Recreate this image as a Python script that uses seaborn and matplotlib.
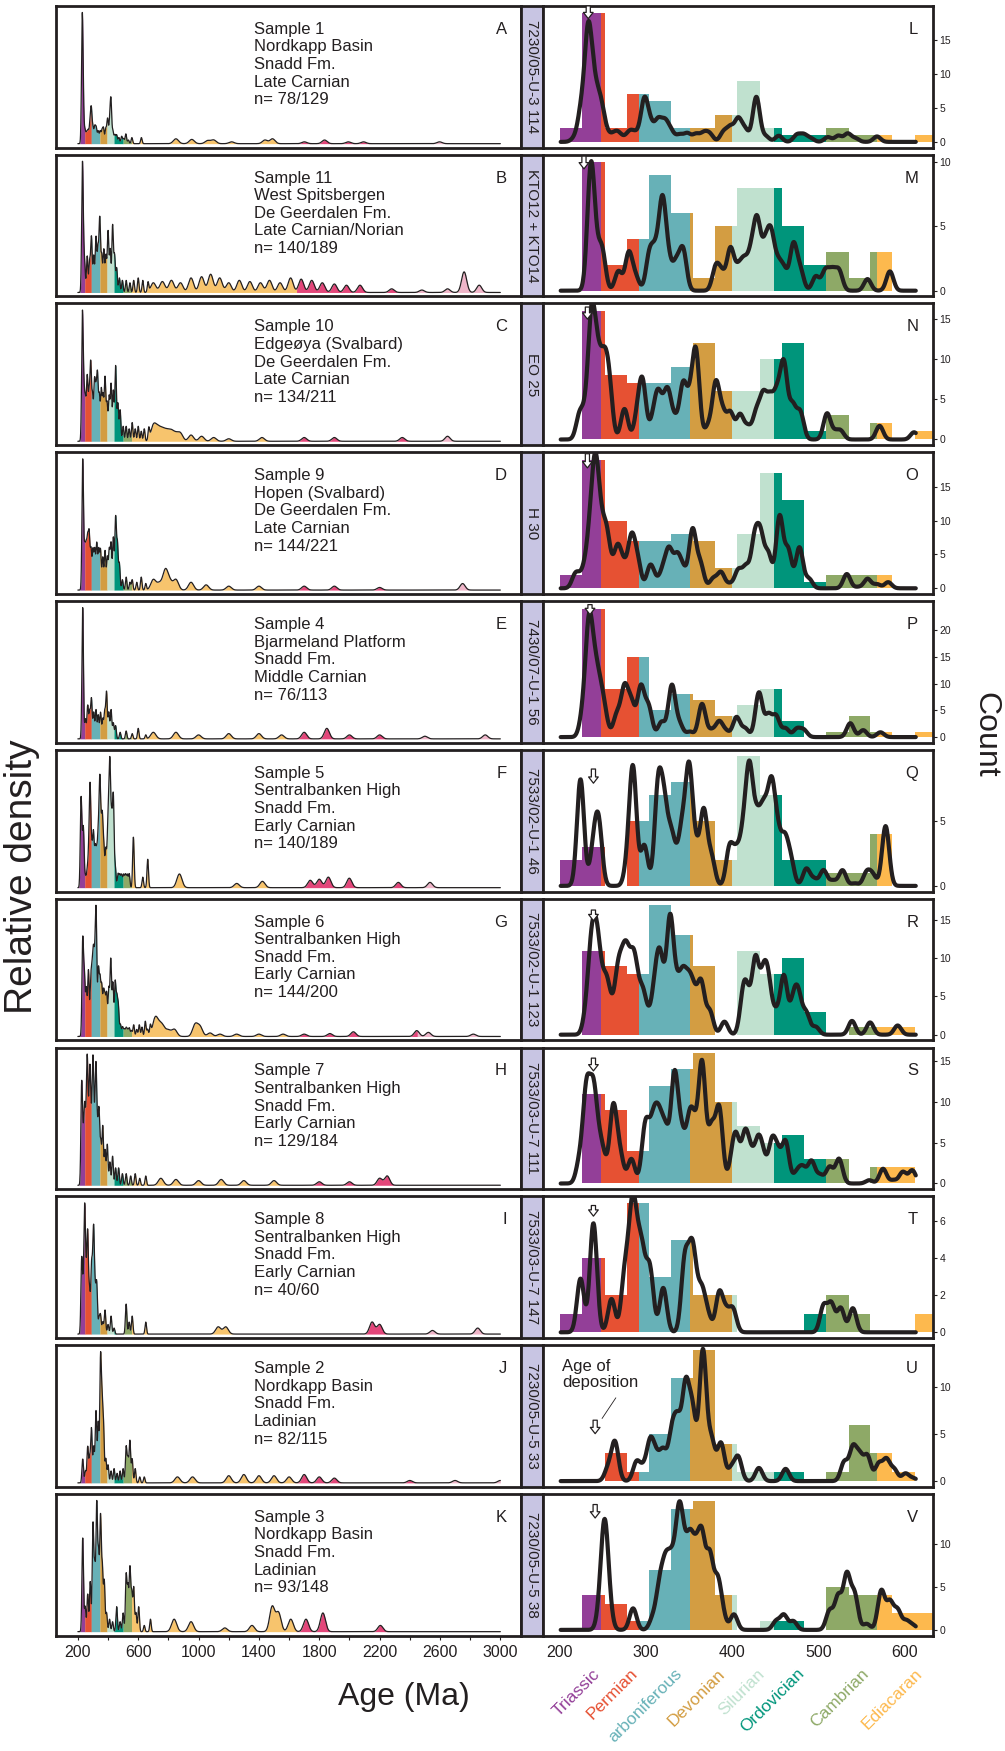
import numpy as np
import pandas as pd
import matplotlib
matplotlib.use("Agg")
import matplotlib.pyplot as plt
import seaborn as sns

# ---------------- data ----------------
sample_labels = [
    "Sample 1\nNordkapp Basin\nSnadd Fm.\nLate Carnian\nn= 78/129",
    "Sample 11\nWest Spitsbergen\nDe Geerdalen Fm.\nLate Carnian/Norian\nn= 140/189",
    "Sample 10\nEdgeøya (Svalbard)\nDe Geerdalen Fm.\nLate Carnian\nn= 134/211",
    "Sample 9\nHopen (Svalbard)\nDe Geerdalen Fm.\nLate Carnian\nn= 144/221",
    "Sample 4\nBjarmeland Platform\nSnadd Fm.\nMiddle Carnian\nn= 76/113",
    "Sample 5\nSentralbanken High\nSnadd Fm.\nEarly Carnian\nn= 140/189",
    "Sample 6\nSentralbanken High\nSnadd Fm.\nEarly Carnian\nn= 144/200",
    "Sample 7\nSentralbanken High\nSnadd Fm.\nEarly Carnian\nn= 129/184",
    "Sample 8\nSentralbanken High\nSnadd Fm.\nEarly Carnian\nn= 40/60",
    "Sample 2\nNordkapp Basin\nSnadd Fm.\nLadinian\nn= 82/115",
    "Sample 3\nNordkapp Basin\nSnadd Fm.\nLadinian\nn= 93/148",
]
well_labels = ["7230/05-U-3 114", "KTO12 + KTO14", "EO 25", "H 30", "7430/07-U-1 56",
               "7533/02-U-1 46", "7533/02-U-1 123", "7533/03-U-7 111", "7533/03-U-7 147",
               "7230/05-U-5 33", "7230/05-U-5 38"]
left_letters = list("ABCDEFGHIJK")
right_letters = list("LMNOPQRSTUV")

# period colour bands, right panels (Ma as read on the count-panel axis)
period_names = ["Triassic", "Permian", "arboniferous", "Devonian", "Silurian",
                "Ordovician", "Cambrian", "Ediacaran"]
period_edges = [200, 248, 292, 351, 400, 448, 509, 568, 638]
period_colors = ["#933f98", "#e65133", "#67b1b7", "#d39d42", "#c0e1cf",
                 "#00957b", "#8ea967", "#fdb94e"]
# colour bands of the relative-density panels (Ma on the density axis)
density_edges = [200, 246, 289, 346, 393, 440, 500, 556, 1650, 2450, 3000]
density_colors = period_colors[:-1] + ["#f7c46d", "#e3467a", "#f0b5c9"]

# histogram bins (Ma) and counts, panels L..V
bin_edges = [200, 226, 252, 278, 303, 329, 355, 380, 406, 432, 458, 483, 509, 535, 560, 586, 612, 638]
counts_L = [2, 19, 2, 7, 6, 2, 2, 4, 9, 2, 1, 1, 2, 1, 1, 0, 1]
counts_M = [0, 10, 2, 4, 9, 6, 1, 5, 8, 8, 5, 2, 3, 1, 3, 0, 0]
counts_N = [0, 16, 8, 7, 7, 9, 12, 6, 6, 10, 12, 1, 3, 0, 2, 0, 1]
counts_O = [2, 19, 10, 7, 7, 8, 7, 3, 8, 17, 13, 1, 2, 2, 2, 0, 0]
counts_P = [0, 24, 9, 15, 5, 8, 7, 4, 6, 9, 3, 0, 1, 4, 1, 0, 1]
counts_Q = [2, 3, 0, 5, 7, 8, 5, 2, 10, 7, 2, 2, 1, 1, 4, 0, 0]
counts_R = [0, 11, 9, 8, 17, 13, 9, 0, 11, 8, 10, 3, 0, 1, 1, 1, 0]
counts_S = [0, 11, 9, 4, 12, 14, 16, 10, 7, 5, 6, 3, 3, 0, 2, 2, 0]
counts_T = [1, 4, 2, 7, 3, 5, 2, 2, 0, 0, 0, 1, 2, 1, 0, 0, 1]
counts_U = [0, 0, 3, 1, 5, 11, 14, 4, 1, 1, 1, 0, 1, 6, 3, 1, 0]
counts_V = [0, 4, 3, 1, 7, 14, 15, 4, 0, 1, 1, 0, 5, 4, 4, 2, 2]

# age peaks (Ma, count height) for the probability curves, panels L..V
pdp_L = [(217, 0.5), (225, 4.5), (233, 15.5), (240, 6.5), (247, 5.0), (253, 1.3), (261, 0.8), (267, 1.2),
         (273, 0.4), (281, 1.4), (288, 1.1), (298, 6.0), (305, 2.3), (314, 3.0), (322, 2.7), (329, 1.4),
         (339, 1.0), (348, 1.2), (358, 1.1), (367, 1.2), (374, 1.1), (390, 1.4), (398, 2.0), (407, 3.2),
         (415, 1.7), (428, 6.6), (439, 0.8), (454, 0.9), (475, 1.0), (483, 1.0), (491, 0.5), (511, 0.7),
         (523, 0.9), (534, 1.2), (543, 0.5), (568, 0.8)]
pdp_M = [(236, 9.3), (242, 2.0), (249, 3.0), (268, 1.5), (280, 2.9), (288, 1.0), (304, 2.7), (311, 2.5),
         (319, 6.6), (326, 2.0), (335, 2.0), (343, 3.1), (381, 1.8), (388, 1.2), (398, 3.2), (407, 1.5),
         (414, 2.0), (422, 2.5), (429, 5.0), (438, 3.0), (445, 4.0), (453, 1.8), (460, 1.5), (471, 3.5),
         (479, 1.5), (497, 1.1), (508, 1.5), (516, 1.4), (524, 1.5), (557, 0.9), (583, 1.5)]
pdp_N = [(223, 3.0), (230, 2.5), (237, 14.5), (244, 8.0), (251, 7.5), (257, 6.5), (275, 3.8), (290, 2.6),
         (296, 6.8), (308, 2.0), (314, 5.0), (321, 2.5), (326, 4.8), (334, 2.0), (343, 6.5), (351, 4.0),
         (358, 10.5), (372, 1.5), (381, 6.8), (389, 3.0), (398, 3.2), (409, 3.0), (418, 1.5), (428, 3.2),
         (436, 5.0), (444, 4.5), (452, 5.0), (460, 9.0), (470, 4.0), (479, 3.3), (510, 3.2), (519, 0.8),
         (526, 1.0), (571, 1.7), (611, 0.9)]
pdp_O = [(218, 1.9), (223, 0.8), (229, 2.2), (235, 6.0), (241, 15.5), (247, 7.0), (254, 7.3), (260, 1.5),
         (267, 5.5), (274, 2.8), (283, 7.0), (290, 3.8), (305, 3.3), (312, 0.8), (320, 2.5), (327, 5.2),
         (336, 4.3), (343, 2.5), (354, 8.5), (363, 3.5), (378, 1.4), (387, 2.3), (397, 0.6), (407, 2.6),
         (416, 3.0), (426, 6.8), (433, 7.0), (442, 4.8), (455, 10.5), (465, 5.5), (478, 6.0), (489, 1.4),
         (533, 2.1), (546, 0.2), (557, 1.4), (568, 0.6), (581, 0.9)]
pdp_P = [(227, 4.0), (234, 20.0), (241, 10.0), (247, 6.0), (252, 3.5), (266, 4.0), (275, 8.8), (283, 6.0),
         (294, 9.2), (303, 5.5), (318, 2.8), (330, 9.6), (339, 2.3), (351, 1.0), (365, 6.2), (376, 1.2),
         (385, 2.8), (393, 1.0), (405, 3.7), (415, 1.6), (431, 8.3), (442, 4.0), (451, 3.8), (462, 1.6),
         (475, 1.5), (483, 1.3), (537, 2.6), (552, 1.3), (572, 0.9)]
pdp_Q = [(224, 8.2), (239, 2.6), (245, 4.6), (279, 1.6), (285, 8.7), (298, 3.1), (314, 7.3), (321, 5.5),
         (329, 3.4), (335, 1.2), (342, 4.0), (350, 8.6), (358, 2.4), (367, 5.6), (376, 2.1), (397, 2.9),
         (405, 2.3), (413, 3.5), (420, 8.2), (428, 4.2), (435, 4.0), (440, 3.0), (446, 6.5), (453, 3.3),
         (461, 3.2), (468, 1.8), (486, 1.3), (495, 0.5), (506, 1.2), (517, 0.4), (528, 1.2), (542, 0.2),
         (556, 1.0), (563, 0.8), (578, 4.6)]
pdp_R = [(231, 2.5), (237, 10.0), (243, 9.5), (248, 3.5), (254, 5.5), (259, 2.0), (267, 6.5), (272, 4.5),
         (277, 8.0), (283, 4.5), (287, 6.0), (290, 1.5), (296, 4.8), (302, 1.5), (310, 5.0), (316, 8.5),
         (321, 2.0), (328, 14.5), (336, 5.0), (343, 6.5), (350, 5.5), (356, 4.0), (364, 6.5), (374, 3.0),
         (391, 1.7), (413, 5.0), (418, 3.5), (427, 9.5), (436, 6.5), (442, 6.0), (451, 2.5), (460, 7.5),
         (471, 4.0), (477, 4.5), (486, 2.7), (497, 1.0), (539, 1.8), (560, 1.6), (592, 1.2)]
pdp_S = [(223, 2.6), (231, 11.0), (239, 10.5), (246, 3.5), (251, 2.2), (262, 9.3), (270, 3.3), (283, 3.0),
         (299, 6.5), (305, 3.0), (310, 6.0), (316, 6.0), (323, 5.5), (333, 12.8), (341, 5.5), (350, 6.5),
         (356, 5.5), (365, 14.5), (376, 6.5), (385, 9.0), (400, 2.5), (405, 4.8), (415, 5.8), (422, 2.8),
         (430, 4.6), (436, 2.7), (446, 4.8), (453, 3.3), (462, 5.0), (475, 1.3), (482, 1.8), (492, 2.7),
         (502, 1.0), (513, 2.0), (524, 3.0), (559, 0.4), (575, 1.8), (587, 0.4), (598, 1.4), (609, 1.6)]
pdp_T = [(224, 2.9), (239, 5.9), (260, 1.8), (275, 2.6), (279, 1.0), (284, 5.3), (289, 2.8), (295, 3.6),
         (301, 1.0), (305, 2.8), (320, 2.4), (345, 3.8), (353, 3.8), (358, 1.5), (365, 2.0), (372, 0.8),
         (385, 2.1), (393, 1.0), (401, 1.2), (506, 1.4), (515, 1.5), (526, 1.3), (540, 1.3)]
pdp_U = [(256, 1.3), (264, 4.1), (289, 2.0), (297, 1.2), (305, 4.0), (312, 2.2), (320, 3.0), (330, 4.8),
         (337, 5.5), (346, 9.5), (354, 7.0), (366, 13.8), (376, 4.2), (387, 4.0), (399, 1.3), (407, 2.5),
         (431, 1.4), (462, 1.3), (530, 2.0), (540, 3.4), (548, 2.5), (557, 2.6), (570, 1.8), (579, 2.2),
         (588, 1.2), (601, 0.8), (610, 0.3)]
pdp_V = [(247, 2.0), (252, 11.0), (257, 2.0), (285, 2.5), (308, 1.3), (316, 4.8), (323, 6.5), (330, 6.5),
         (338, 11.5), (344, 6.5), (351, 8.5), (358, 7.0), (365, 9.5), (374, 8.0), (383, 5.2), (389, 1.5),
         (402, 1.8), (451, 1.0), (460, 1.7), (471, 1.0), (513, 2.2), (523, 3.8), (533, 6.2), (542, 4.0),
         (556, 0.7), (573, 4.5), (583, 3.1), (592, 2.2), (602, 1.0), (610, 0.5)]

# relative-density peaks (Ma, relative height), panels A..K
kde_A = [(229, 1.0), (236, 0.2), (247, 0.1), (258, 0.08), (268, 0.1), (280, 0.15), (289, 0.27), (300, 0.12),
         (312, 0.13), (322, 0.12), (335, 0.1), (348, 0.1), (360, 0.1), (370, 0.12), (385, 0.12), (397, 0.2),
         (410, 0.15), (419, 0.35), (432, 0.1), (445, 0.07), (457, 0.07), (472, 0.05), (490, 0.06), (503, 0.04),
         (518, 0.08), (535, 0.03), (558, 0.05), (621, 0.05),
         (850, 0.04), (955, 0.035), (1060, 0.025), (1100, 0.03), (1219, 0.015), (1440, 0.03), (1490, 0.04),
         (1701, 0.015), (1835, 0.03), (1992, 0.015), (2093, 0.015), (2597, 0.015)]
kde_B = [(230, 1.0), (237, 0.2), (245, 0.2), (262, 0.3), (278, 0.25), (290, 0.45), (305, 0.3), (320, 0.45),
         (333, 0.35), (345, 0.6), (358, 0.3), (372, 0.35), (386, 0.3), (400, 0.5), (414, 0.35), (430, 0.55),
         (443, 0.3), (457, 0.2), (475, 0.12), (495, 0.1), (520, 0.1), (545, 0.08), (570, 0.1), (600, 0.12),
         (630, 0.1), (665, 0.08),
         (700, 0.08), (760, 0.09), (820, 0.1), (880, 0.08), (950, 0.12), (1020, 0.13), (1080, 0.15),
         (1140, 0.12), (1200, 0.08), (1270, 0.1), (1340, 0.09), (1410, 0.08), (1470, 0.1), (1540, 0.08),
         (1610, 0.12), (1680, 0.11), (1750, 0.1), (1820, 0.08), (1900, 0.07), (1980, 0.06), (2070, 0.06),
         (2280, 0.03), (2480, 0.02), (2650, 0.03), (2760, 0.17), (2860, 0.06)]
kde_C = [(230, 1.0), (240, 0.35), (250, 0.3), (262, 0.5), (274, 0.35), (285, 0.6), (297, 0.35), (310, 0.45),
         (320, 0.35), (330, 0.5), (342, 0.35), (355, 0.4), (367, 0.35), (380, 0.5), (393, 0.3), (407, 0.35),
         (420, 0.45), (435, 0.4), (450, 0.6), (465, 0.3), (480, 0.25), (500, 0.12), (520, 0.12), (540, 0.1),
         (560, 0.15), (580, 0.1), (600, 0.12), (620, 0.08), (640, 0.1), (670, 0.09),
         (700, 0.12), (730, 0.09), (760, 0.08), (790, 0.07), (820, 0.07), (850, 0.05), (880, 0.06), (950, 0.05),
         (1020, 0.04), (1100, 0.03), (1200, 0.02), (1420, 0.03), (1700, 0.03), (1900, 0.03), (2350, 0.03),
         (2650, 0.04)]
kde_D = [(232, 1.0), (245, 0.3), (255, 0.3), (265, 0.35), (275, 0.4), (287, 0.3), (300, 0.3), (312, 0.3),
         (325, 0.35), (338, 0.3), (350, 0.3), (365, 0.25), (380, 0.3), (395, 0.25), (408, 0.3), (420, 0.35),
         (435, 0.4), (450, 0.55), (462, 0.35), (475, 0.2), (495, 0.08), (520, 0.1), (545, 0.06), (560, 0.08),
         (590, 0.06), (620, 0.1), (650, 0.05),
         (700, 0.08), (740, 0.05), (780, 0.15), (810, 0.06), (850, 0.08), (950, 0.06), (1050, 0.04),
         (1200, 0.03), (1400, 0.03), (1700, 0.03), (1900, 0.03), (2200, 0.02), (2750, 0.05)]
kde_E = [(232, 1.0), (250, 0.15), (265, 0.25), (278, 0.2), (290, 0.3), (305, 0.2), (320, 0.22), (335, 0.18),
         (350, 0.2), (365, 0.15), (378, 0.2), (390, 0.35), (405, 0.2), (420, 0.22), (435, 0.12), (450, 0.1),
         (480, 0.05), (520, 0.06), (560, 0.04), (600, 0.08), (650, 0.03),
         (700, 0.05), (850, 0.05), (1000, 0.03), (1200, 0.04), (1400, 0.04), (1550, 0.03), (1700, 0.05),
         (1850, 0.08), (2000, 0.03), (2200, 0.03), (2500, 0.02), (2900, 0.03)]
kde_F = [(221, 0.82), (230, 0.2), (237, 0.49), (250, 0.1), (262, 0.15), (272, 0.3), (281, 0.91), (292, 0.35),
         (303, 0.5), (315, 0.35), (325, 0.3), (335, 0.45), (345, 0.9), (353, 0.4), (362, 0.6), (372, 0.35),
         (385, 0.35), (397, 0.4), (405, 0.6), (413, 1.0), (424, 0.6), (435, 0.84), (448, 0.2), (466, 0.13),
         (478, 0.12), (490, 0.12), (503, 0.12), (515, 0.12), (527, 0.12), (540, 0.13), (568, 0.48),
         (630, 0.1), (663, 0.27),
         (873, 0.13), (1253, 0.04), (1423, 0.06), (1740, 0.07), (1800, 0.08), (1860, 0.1), (1999, 0.09),
         (2324, 0.05), (2534, 0.05)]
kde_G = [(232, 0.81), (243, 0.5), (256, 0.4), (270, 0.56), (285, 0.42), (294, 0.45), (303, 0.6), (312, 0.5),
         (321, 1.0), (336, 0.55), (347, 0.45), (358, 0.4), (370, 0.35), (380, 0.3), (391, 0.35), (405, 0.4),
         (418, 0.65), (432, 0.45), (447, 0.45), (458, 0.3), (468, 0.25), (482, 0.1), (496, 0.08), (508, 0.06),
         (520, 0.07), (530, 0.05), (541, 0.07), (555, 0.05), (570, 0.1), (590, 0.06), (607, 0.1), (625, 0.08),
         (647, 0.13), (662, 0.06), (680, 0.08),
         (712, 0.15), (740, 0.07), (763, 0.07), (800, 0.05), (840, 0.06), (977, 0.1), (1010, 0.08),
         (1076, 0.03), (1142, 0.02), (1252, 0.02), (1400, 0.02), (1560, 0.02), (1700, 0.02), (1870, 0.025),
         (2026, 0.04), (2446, 0.05), (2523, 0.035), (2821, 0.02)]
kde_H = [(225, 0.85), (235, 0.35), (245, 0.6), (254, 0.35), (262, 0.95), (271, 0.4), (280, 0.9), (290, 0.45),
         (300, 1.0), (310, 0.45), (320, 0.95), (330, 0.4), (340, 0.6), (352, 0.35), (365, 0.5), (380, 0.3),
         (395, 0.35), (412, 0.2), (430, 0.25), (450, 0.15), (470, 0.15), (495, 0.1), (520, 0.1), (550, 0.08),
         (580, 0.1), (610, 0.06), (650, 0.08),
         (750, 0.06), (850, 0.05), (1000, 0.04), (1150, 0.05), (1300, 0.04), (1500, 0.04), (1800, 0.03),
         (2000, 0.03), (2200, 0.06), (2250, 0.08), (3050, 0.03)]
kde_I = [(225, 0.6), (235, 0.3), (245, 1.0), (255, 0.4), (265, 0.8), (277, 0.35), (290, 0.5), (298, 0.3),
         (305, 0.75), (315, 0.3), (325, 0.4), (340, 0.12), (350, 0.15), (365, 0.1), (380, 0.2), (400, 0.08),
         (420, 0.15), (440, 0.05), (520, 0.25), (540, 0.1), (560, 0.15), (650, 0.1),
         (1130, 0.06), (1180, 0.06), (2150, 0.1), (2200, 0.08), (2550, 0.03), (2850, 0.05)]
kde_J = [(232, 0.2), (250, 0.1), (265, 0.3), (278, 0.2), (290, 0.45), (305, 0.3), (320, 0.6), (335, 0.5),
         (350, 1.0), (360, 0.6), (370, 0.45), (385, 0.2), (400, 0.15), (420, 0.1), (440, 0.12), (460, 0.08),
         (480, 0.1), (500, 0.12), (520, 0.3), (532, 0.2), (545, 0.35), (560, 0.2), (580, 0.12), (610, 0.05),
         (640, 0.05),
         (860, 0.05), (960, 0.05), (1200, 0.06), (1300, 0.07), (1400, 0.06), (1500, 0.06), (1600, 0.05),
         (1700, 0.07), (1800, 0.05), (1900, 0.04), (2400, 0.02), (2700, 0.02), (3000, 0.02)]
kde_K = [(232, 0.75), (248, 0.2), (265, 0.3), (282, 0.4), (300, 0.85), (312, 0.5), (325, 1.0), (337, 0.6),
         (350, 0.9), (362, 0.5), (375, 0.4), (390, 0.15), (410, 0.1), (430, 0.08), (457, 0.2), (480, 0.08),
         (500, 0.15), (520, 0.45), (532, 0.35), (545, 0.5), (557, 0.3), (570, 0.35), (585, 0.15), (603, 0.2),
         (640, 0.05), (681, 0.1),
         (838, 0.1), (950, 0.08), (1174, 0.03), (1354, 0.05), (1488, 0.2), (1530, 0.15), (1611, 0.1),
         (1712, 0.1), (1824, 0.15), (2205, 0.05)]

# right-panel y-axis tops and ticks
count_top = [20.0, 10.57, 16.95, 20.07, 25.5, 10.46, 17.8, 16.7, 7.36, 14.5, 15.8]
count_ticks = [[0, 5, 10, 15], [0, 5, 10], [0, 5, 10, 15], [0, 5, 10, 15], [0, 5, 10, 15, 20], [0, 5],
               [0, 5, 10, 15], [0, 5, 10, 15], [0, 2, 4, 6], [0, 5, 10], [0, 5, 10]]
# deposition-age arrows: age, arrow top / bottom (axes fraction)
arrow_age = [233, 228, 232, 232, 235, 239, 239, 239, 239, 241, 241]
arrow_top = [1.0, 0.99, 0.975, 0.99, 0.975, 0.865, 0.92, 0.925, 0.935, 0.47, 0.925]
arrow_bot = [0.91, 0.90, 0.89, 0.89, 0.905, 0.765, 0.845, 0.835, 0.86, 0.375, 0.83]

counts_all = [counts_L, counts_M, counts_N, counts_O, counts_P, counts_Q, counts_R, counts_S,
              counts_T, counts_U, counts_V]
pdp_all = [pdp_L, pdp_M, pdp_N, pdp_O, pdp_P, pdp_Q, pdp_R, pdp_S, pdp_T, pdp_U, pdp_V]
kde_all = [kde_A, kde_B, kde_C, kde_D, kde_E, kde_F, kde_G, kde_H, kde_I, kde_J, kde_K]

# ---------------- style ----------------
sns.set_style("white")
plt.rcParams["font.family"] = ["Liberation Sans", "DejaVu Sans"]
ink = "#231f20"
plt.rcParams["text.color"] = ink

W, H = 1005, 1751
fig = plt.figure(figsize=(W / 100, H / 100), dpi=100)


def box(x0, y0, x1, y1):
    return [x0 / W, 1 - y1 / H, (x1 - x0) / W, (y1 - y0) / H]


def scaled_kde(ax, peaks, bw, lo, hi, lw, gridsize):
    ages = np.array([p[0] for p in peaks], float)
    w = np.array([p[1] for p in peaks], float)
    sd = np.sqrt(np.cov(ages, aweights=w))
    sns.kdeplot(x=ages, weights=w, bw_method=bw / sd, cut=1000, clip=(lo, hi),
                gridsize=gridsize, color=ink, lw=lw, ax=ax, zorder=3)
    line = ax.lines[-1]
    xs, ys = line.get_data()
    ys = np.asarray(ys) * w.sum() * np.sqrt(2 * np.pi) * bw
    line.set_ydata(ys)
    line.set_solid_joinstyle("round")
    return np.asarray(xs), ys


def left_curve(ax, peaks):
    # narrow kernel for the Phanerozoic spikes, broader one for the older grains
    young = [p for p in peaks if p[0] < 700]
    old = [p for p in peaks if p[0] >= 700]
    xs, y1 = scaled_kde(ax, young, 5.0, 200, 3000, 0.9, 4000)
    _, y2 = scaled_kde(ax, old, 17.0, 200, 3000, 0.9, 4000)
    ax.lines[-1].remove()
    ax.lines[-1].remove()
    ys = y1 + y2
    ax.plot(xs, ys, color=ink, lw=0.9, zorder=3)
    return xs, ys


def draw_bars(ax, counts):
    edges = sorted(set(bin_edges) | set(period_edges))
    rows = []
    for lo, hi in zip(edges[:-1], edges[1:]):
        b = np.searchsorted(bin_edges, lo, side="right") - 1
        p = np.searchsorted(period_edges, lo, side="right") - 1
        rows.append({"age": (lo + hi) / 2, "n": counts[b], "period": period_names[p]})
    df = pd.DataFrame(rows)
    sns.histplot(df, x="age", weights="n", bins=edges, hue="period", hue_order=period_names,
                 palette=period_colors, multiple="layer", alpha=1, linewidth=0,
                 legend=False, ax=ax, zorder=1)


top0, pitch, hgt = 5.9, 148.8, 141.7
for i in range(11):
    y0 = top0 + pitch * i
    y1 = y0 + hgt
    axl = fig.add_axes(box(56, y0, 521, y1))
    axs = fig.add_axes(box(521, y0, 542.5, y1))
    axr = fig.add_axes(box(542.5, y0, 933, y1))

    # ---- left: relative density ----
    xs, ys = left_curve(axl, kde_all[i])
    for lo, hi, c in zip(density_edges[:-1], density_edges[1:], density_colors):
        m = (xs >= lo - 1) & (xs <= hi + 1)
        axl.fill_between(xs[m], 0, ys[m], color=c, lw=0, zorder=1)
    ymax = ys.max()
    axl.set_xlim(55, 3137)
    axl.set_ylim(-0.03 * ymax, 1.05 * ymax)
    axl.set_yticks([])
    axl.set_ylabel("")
    axl.text(0.426, 0.888, sample_labels[i], transform=axl.transAxes, ha="left", va="top",
             fontsize=12, linespacing=1.22)
    axl.text(0.97, 0.888, left_letters[i], transform=axl.transAxes, ha="right", va="top", fontsize=12)

    # ---- middle strip ----
    axs.set_facecolor("#c8c5e3")
    axs.set_xticks([])
    axs.set_yticks([])
    axs.text(0.5, 0.5, well_labels[i], transform=axs.transAxes, rotation=-90, ha="center",
             va="center", fontsize=11)

    # ---- right: histogram + probability curve ----
    draw_bars(axr, counts_all[i])
    scaled_kde(axr, pdp_all[i], 4.1, 201, 613, 3.0, 800)
    axr.set_xlim(179.9, 633)
    axr.set_ylim(-0.042 * count_top[i], count_top[i])
    axr.yaxis.tick_right()
    axr.set_yticks(count_ticks[i])
    axr.tick_params(axis="y", direction="out", length=3, width=0.8, labelsize=7.5, pad=1.5,
                    colors=ink)
    axr.set_ylabel("")
    axr.text(0.962, 0.888, right_letters[i], transform=axr.transAxes, ha="right", va="top",
             fontsize=12)
    axr.annotate("", xy=(arrow_age[i], arrow_bot[i]), xycoords=("data", "axes fraction"),
                 xytext=(arrow_age[i], arrow_top[i]), textcoords=("data", "axes fraction"),
                 arrowprops=dict(arrowstyle="simple,head_length=0.45,head_width=0.7,tail_width=0.3",
                                 fc="white", ec=ink, lw=0.9, shrinkA=0, shrinkB=0),
                 zorder=6)

    for a in (axl, axs, axr):
        a.set_xlabel("")
        for s in a.spines.values():
            s.set_visible(True)
            s.set_linewidth(2.0)
            s.set_color(ink)

    if i == 9:
        # age of deposition note
        axr.text(203, 0.9, "Age of\ndeposition", transform=axr.get_xaxis_transform(),
                 ha="left", va="top", fontsize=12, linespacing=1.1)
        axr.plot([265, 249], [0.628, 0.482], transform=axr.get_xaxis_transform(), color=ink, lw=0.6)

    if i == 10:
        axl.set_xticks([200, 600, 1000, 1400, 1800, 2200, 2600, 3000])
        axl.set_xticks([400, 800, 1200, 1600, 2000, 2400, 2800], minor=True)
        axl.tick_params(axis="x", which="both", direction="out", length=3, width=0.8,
                        labelsize=11.5, colors=ink, pad=4, bottom=True)
        axr.set_xticks([200, 300, 400, 500, 600])
        axr.tick_params(axis="x", direction="out", length=0, labelsize=11.5, colors=ink, pad=7)
    else:
        axl.set_xticks([])
        axr.set_xticks([])

# axis titles
fig.text(404 / W, 1 - 1697 / H, "Age (Ma)", ha="center", va="center", fontsize=23)
fig.text(22 / W, 1 - 877 / H, "Relative density", ha="center", va="center", rotation=90, fontsize=28)
fig.text(985 / W, 1 - 735 / H, "Count", ha="center", va="center", rotation=-90, fontsize=23)

# coloured period names
name_x = [592, 630, 674, 717, 757, 797, 861, 915]
for name, c, x in zip(period_names, period_colors, name_x):
    fig.text(x / W, 1 - 1666 / H, name, color=c, rotation=45, rotation_mode="anchor",
             ha="right", va="top", fontsize=12.5)

fig.savefig("out.png", dpi=100)
